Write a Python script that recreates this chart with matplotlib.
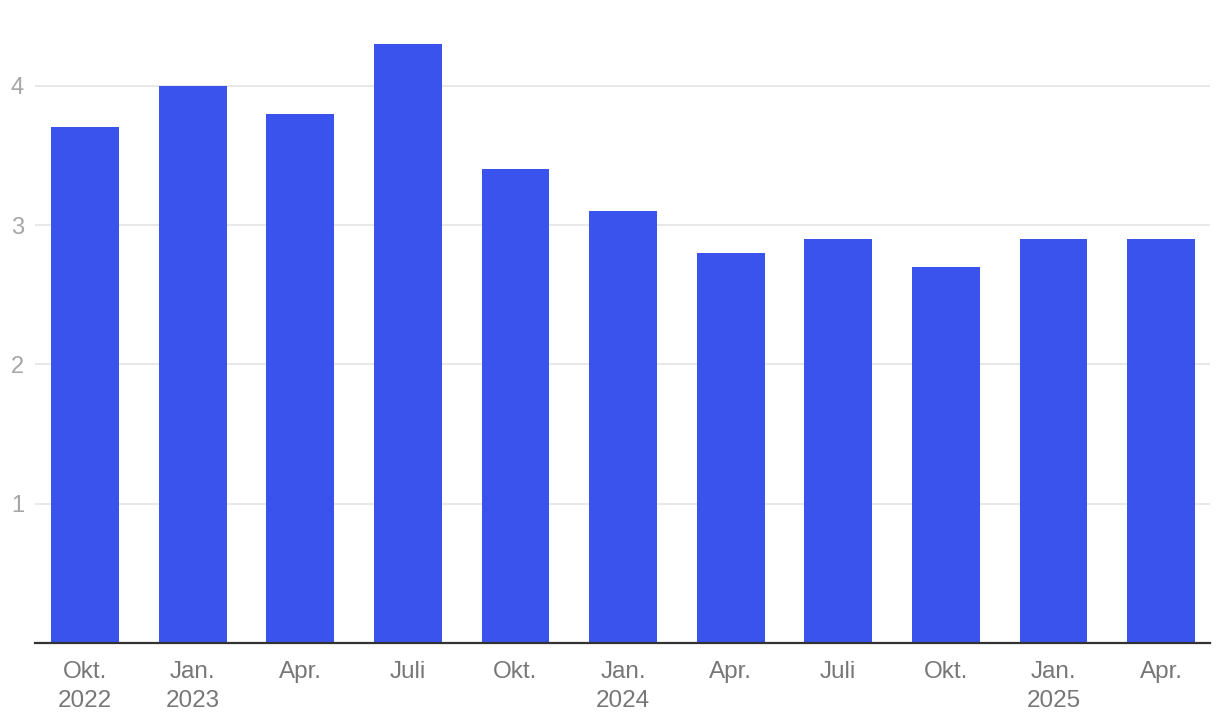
import matplotlib.pyplot as plt

# Quarterly values
quarters = ['Okt.\n2022', 'Jan.\n2023', 'Apr.', 'Juli', 'Okt.', 'Jan.\n2024',
            'Apr.', 'Juli', 'Okt.', 'Jan.\n2025', 'Apr.']
values = [3.7, 4.0, 3.8, 4.3, 3.4, 3.1, 2.8, 2.9, 2.7, 2.9, 2.9]
y_ticks = [1, 2, 3, 4]

plt.rcParams['font.family'] = ['Liberation Sans', 'DejaVu Sans']

fig = plt.figure(figsize=(12.2, 7.26), dpi=100)
ax = fig.add_axes([35 / 1220, 83 / 726, 1175 / 1220, 627 / 726])

x = range(len(values))
ax.bar(x, values, width=0.63, color='#3953EC', zorder=3)

ax.set_xlim(-0.465, len(values) - 1 + 0.455)
ax.set_ylim(0, 4.5)

ax.set_yticks(y_ticks)
ax.set_yticklabels([str(t) for t in y_ticks])
ax.set_xticks(list(x))
ax.set_xticklabels(quarters, linespacing=1.4)

ax.grid(axis='y', color='#e6e6e6', linewidth=1.3, zorder=0)
ax.tick_params(axis='y', length=0, pad=8, labelsize=17, labelcolor='#a6a6a6')
ax.tick_params(axis='x', length=0, pad=13, labelsize=17.5, labelcolor='#777777')

for side in ['top', 'right', 'left']:
    ax.spines[side].set_visible(False)
ax.spines['bottom'].set_color('#333333')
ax.spines['bottom'].set_linewidth(1.6)
ax.spines['bottom'].set_zorder(4)

fig.savefig('out.png', dpi=100)
